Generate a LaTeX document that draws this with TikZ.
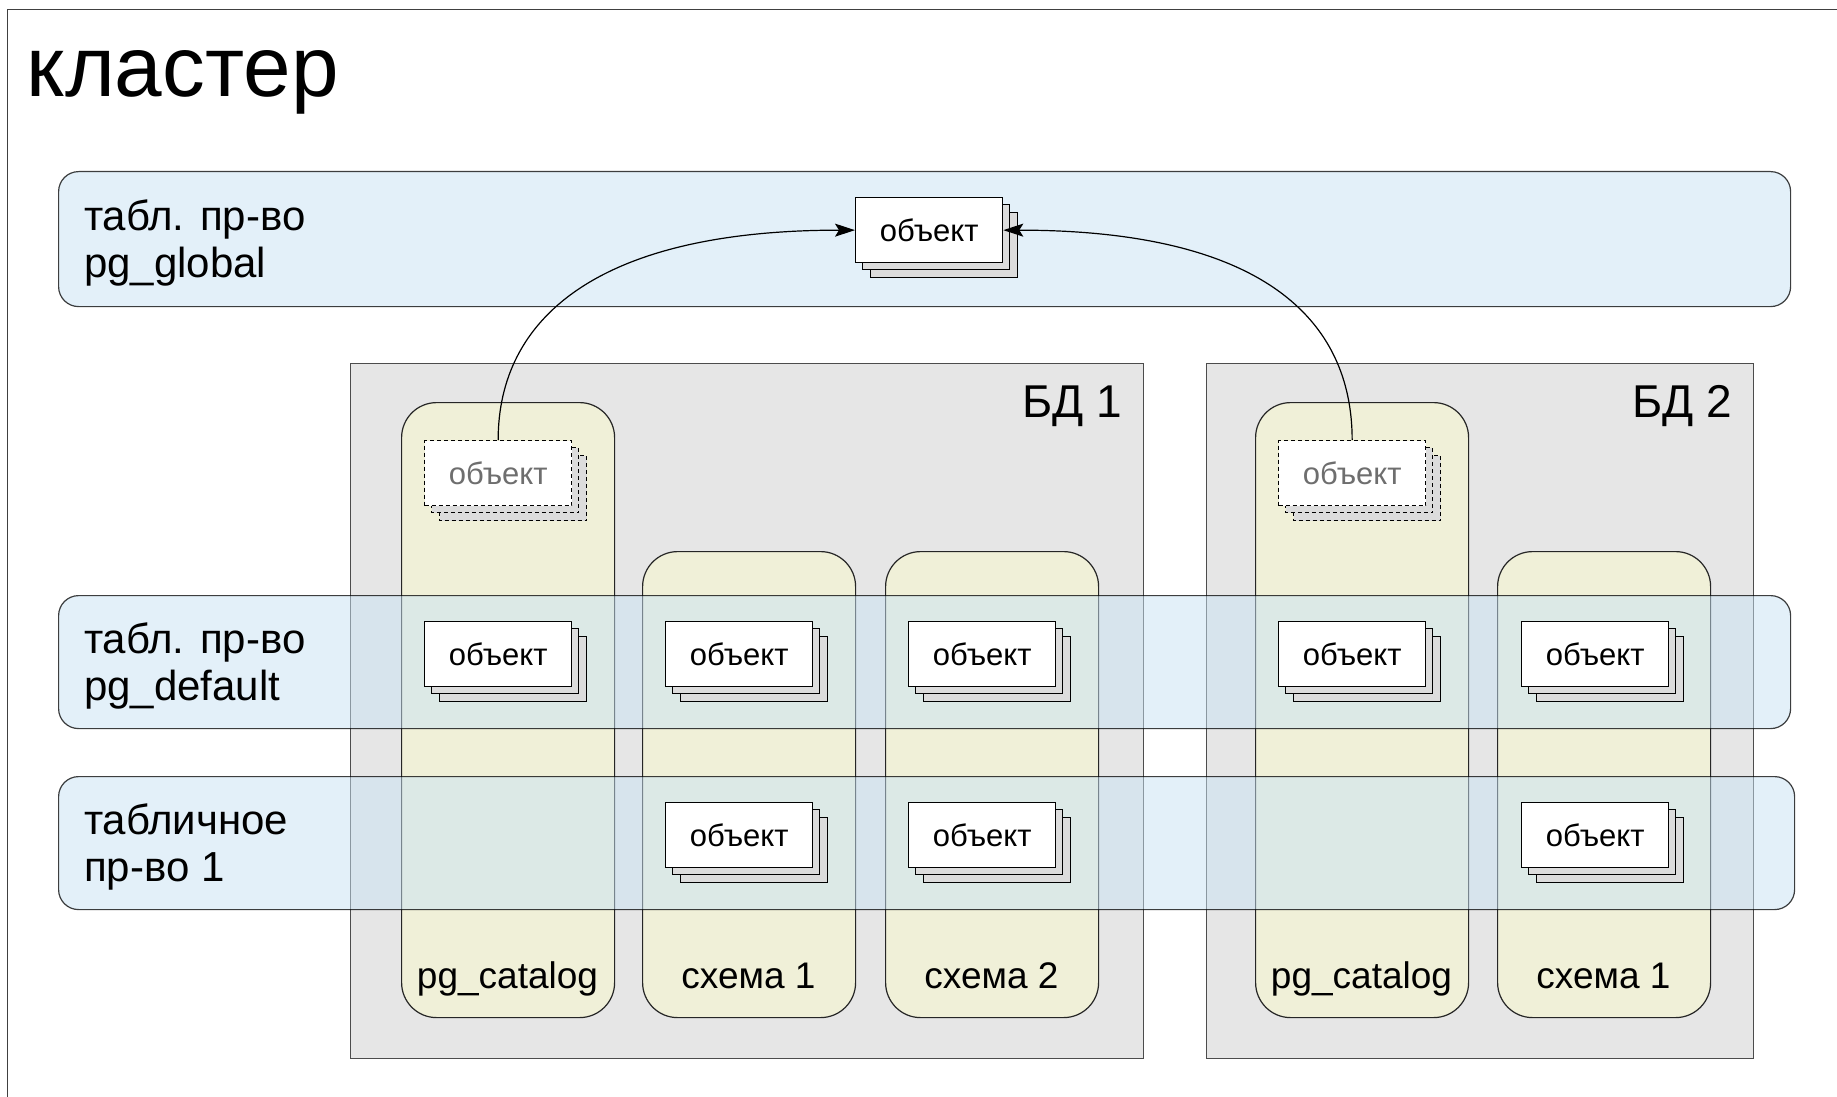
\documentclass[tikz,border=0pt]{standalone}
\usepackage{fontspec}
\setmainfont{Liberation Sans}
\usetikzlibrary{arrows.meta}
\definecolor{bdfill}{HTML}{E6E6E6}
\definecolor{colfill}{HTML}{F0F0D8}
\definecolor{bandfill}{RGB}{201,227,245}
\definecolor{shadowgray}{HTML}{DCDCDC}
\definecolor{ghosttext}{HTML}{6E6E6E}
\newcommand\objstack[4]{% name, x, y, kind (solid/ghost)
  \path[#4shadow] (#2+15.5,#3+15.5) rectangle ++(147,65);
  \path[#4shadow] (#2+7.75,#3+7.75) rectangle ++(147,65);
  \node[#4obj] (#1) at (#2,#3) {объект};
}
\newcommand\twolines[2]{\begin{tabular}[t]{@{}l@{}}#1\\#2\end{tabular}}
\begin{document}
\begin{tikzpicture}[x=1pt,y=-1pt,
  frame/.style={draw=black!75, line width=1.3pt},
  dbbox/.style={draw=black!70, fill=bdfill, line width=1.3pt, anchor=north west, inner sep=0},
  schema/.style={draw=black!85, fill=colfill, line width=1.2pt, rounded corners=35pt, anchor=north west, inner sep=0},
  band/.style={draw=black, draw opacity=0.75, fill=bandfill, fill opacity=0.5, line width=1.2pt, rounded corners=20pt, anchor=north west, inner sep=0},
  solidshadow/.style={draw=black, fill=shadowgray, line width=1.3pt},
  solidobj/.style={draw=black, fill=white, line width=1.3pt, minimum width=147pt, minimum height=65pt, inner sep=0, anchor=north west, font=\fontsize{31}{36}\selectfont},
  ghostshadow/.style={draw=black, fill=shadowgray, line width=1.3pt, dash pattern=on 4pt off 3pt},
  ghostobj/.style={draw=black, fill=white, line width=1.3pt, dash pattern=on 4pt off 3pt, minimum width=147pt, minimum height=65pt, inner sep=0, anchor=north west, text=ghosttext, font=\fontsize{31}{36}\selectfont},
  lbl/.style={inner sep=0, font=\fontsize{42}{47}\selectfont},
  dblbl/.style={inner sep=0, font=\fontsize{46}{50}\selectfont},
  collbl/.style={inner sep=0, font=\fontsize{37}{42}\selectfont},
  conn/.style={draw=black, line width=1.2pt, -{Stealth[length=20pt,width=13pt,inset=4pt]}}
]
\useasboundingbox (0,0) rectangle (1837,1097);
\clip (0,0) rectangle (1837,1097);
\fill[white] (0,0) rectangle (1837,1097);
% cluster frame
\draw[frame] (7.5,1200) |- (1900,9.5);
\node[anchor=base west, inner sep=0, font=\fontsize{85.5}{96}\selectfont] (title) at (26.5,97) {кластер};
% global tablespace
\node[band, minimum width=1732pt, minimum height=135pt] (gband) at (58,171) {};
\node[lbl, anchor=base west] (glbl) at (84,230) {\twolines{табл. пр-во}{pg\_global}};
% databases
\node[dbbox, minimum width=793pt, minimum height=695pt] (bd1) at (350,363) {};
\node[dbbox, minimum width=547pt, minimum height=695pt] (bd2) at (1206,363) {};
\node[dblbl, anchor=base east] (bd1l) at (1122,417) {БД 1};
\node[dblbl, anchor=base east] (bd2l) at (1732,417) {БД 2};
% schemas
\node[schema, minimum width=213pt, minimum height=615pt] (c1) at (401,402) {};
\node[schema, minimum width=213pt, minimum height=466pt] (c2) at (642,551) {};
\node[schema, minimum width=213pt, minimum height=466pt] (c3) at (885,551) {};
\node[schema, minimum width=213pt, minimum height=615pt] (c4) at (1255,402) {};
\node[schema, minimum width=213pt, minimum height=466pt] (c5) at (1497,551) {};
\node[collbl, anchor=base] (c1l) at (507.5,988) {pg\_catalog};
\node[collbl, anchor=base] (c2l) at (748.5,988) {схема 1};
\node[collbl, anchor=base] (c3l) at (991.5,988) {схема 2};
\node[collbl, anchor=base] (c4l) at (1361.5,988) {pg\_catalog};
\node[collbl, anchor=base] (c5l) at (1603.5,988) {схема 1};
% tablespace bands
\node[band, minimum width=1732pt, minimum height=133pt] (dband) at (58,595) {};
\node[band, minimum width=1736pt, minimum height=133pt] (tband) at (58,776) {};
\node[lbl, anchor=base west] (dlbl) at (84,653) {\twolines{табл. пр-во}{pg\_default}};
\node[lbl, anchor=base west] (tlbl) at (84,834) {\twolines{табличное}{пр-во 1}};
% objects
\objstack{g}{855}{197}{solid}
\objstack{d1}{424}{440}{ghost}
\objstack{d2}{1278}{440}{ghost}
\objstack{o11}{424}{621}{solid}
\objstack{o12}{665}{621}{solid}
\objstack{o13}{908}{621}{solid}
\objstack{o14}{1278}{621}{solid}
\objstack{o15}{1521}{621}{solid}
\objstack{o22}{665}{802}{solid}
\objstack{o23}{908}{802}{solid}
\objstack{o25}{1521}{802}{solid}
% connectors
\draw[conn] (d1.north) .. controls +(0,-120) and +(-260,0) .. (g.west);
\draw[conn] (d2.north) .. controls +(0,-120) and +(260,0) .. (g.east);
\end{tikzpicture}
\end{document}
